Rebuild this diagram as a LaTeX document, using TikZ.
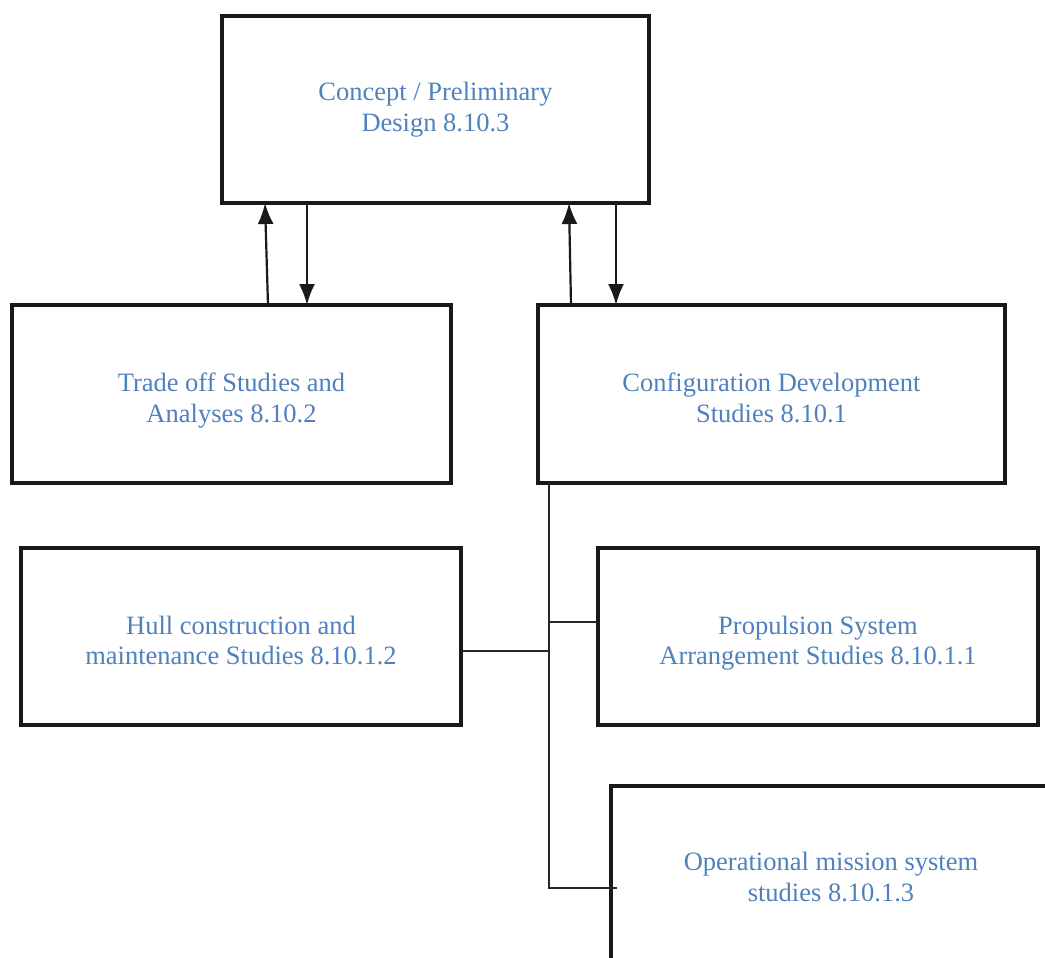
\documentclass[tikz,border=0pt]{standalone}
\usepackage{fontspec}
\setmainfont{Liberation Serif}
\usetikzlibrary{arrows.meta}
\definecolor{textblue}{RGB}{79,129,189}
\tikzset{
  studybox/.style={draw=black!90, line width=3.5pt, align=center, text=textblue,
    font=\fontsize{26.5}{30.5}\selectfont, inner sep=0pt,
    text height=60pt, text depth=4pt},
  flow/.style={line width=2.2pt, draw=black!90, -{Latex[length=21pt,width=16pt]}},
  link/.style={line width=1.8pt, draw=black!85}
}
\begin{document}
\begin{tikzpicture}[x=1pt,y=-1pt]
  \clip (0,0) rectangle (1045,958);
  % boxes
  \node[studybox, text height=48pt, minimum width=427pt, minimum height=187pt] (concept) at (435.5,109.5) {Concept / Preliminary\\Design 8.10.3};
  \node[studybox, minimum width=439pt, minimum height=178pt] (trade) at (231.5,394) {Trade off Studies and\\Analyses 8.10.2};
  \node[studybox, minimum width=467pt, minimum height=178pt] (config) at (771.5,394) {Configuration Development\\Studies 8.10.1};
  \node[studybox, minimum width=440pt, minimum height=177pt] (hull) at (241,636.5) {Hull construction and\\maintenance Studies 8.10.1.2};
  \node[studybox, minimum width=440pt, minimum height=177pt] (prop) at (818,636.5) {Propulsion System\\Arrangement Studies 8.10.1.1};
  \node[studybox, text height=54pt, minimum width=440pt, minimum height=180pt] (oper) at (831,876) {Operational mission system\\studies 8.10.1.3};
  % arrows between levels
  \draw[flow] (268,305) -- (265,203);
  \draw[flow] (307,203) -- (307,305);
  \draw[flow] (571,305) -- (569,203);
  \draw[flow] (616,203) -- (616,305);
  % tree lines
  \coordinate (spine) at (549,483);
  \coordinate (corner) at (549,888);
  \draw[link] (spine) -- (corner) -- (617,888);
  \draw[link] (549,622) -- (prop.west |- 0,622);
  \draw[link] (hull.east |- 0,651) -- (549,651);
\end{tikzpicture}
\end{document}
